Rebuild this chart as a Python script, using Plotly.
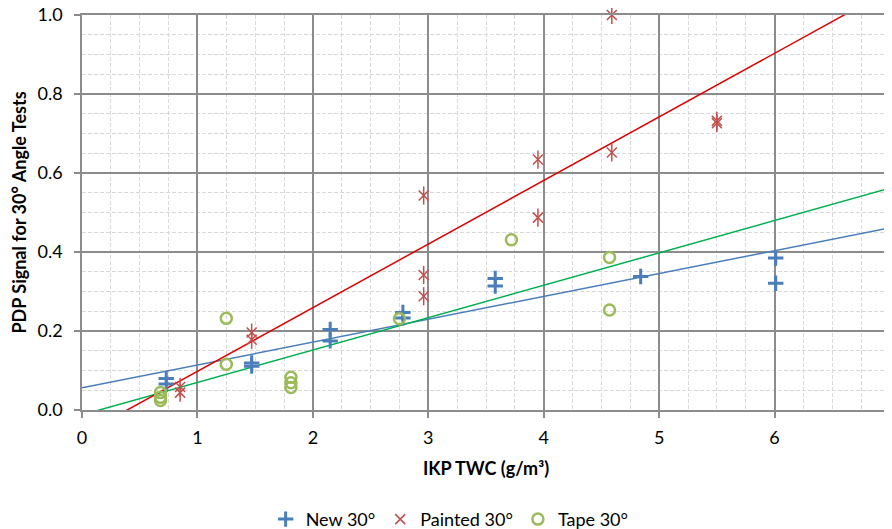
import plotly.graph_objects as go

# ---- data ----
new_x = [0.73, 0.73, 1.47, 1.47, 2.15, 2.15, 2.78, 2.78, 3.58, 3.58, 4.84, 6.01, 6.01]
new_y = [0.080, 0.066, 0.119, 0.111, 0.204, 0.175, 0.247, 0.233, 0.333, 0.314, 0.338, 0.385, 0.321]

painted_x = [0.85, 0.85, 1.47, 1.47, 2.96, 2.96, 2.96, 3.95, 3.95, 4.59, 4.59, 5.50, 5.50]
painted_y = [0.058, 0.044, 0.196, 0.178, 0.543, 0.342, 0.288, 0.634, 0.487, 1.000, 0.652, 0.732, 0.726]

tape_x = [0.68, 0.68, 0.68, 1.25, 1.25, 1.81, 1.81, 1.81, 2.75, 3.72, 4.57, 4.57]
tape_y = [0.044, 0.032, 0.024, 0.232, 0.116, 0.083, 0.069, 0.057, 0.231, 0.431, 0.386, 0.253]

# linear trendlines (intercept, slope)
trend_new = (0.056, 0.0579)
trend_painted = (-0.063, 0.161)
trend_tape = (-0.0123, 0.082)

x_ticks = [0, 1, 2, 3, 4, 5, 6, 7]
y_ticks = [0.0, 0.2, 0.4, 0.6, 0.8, 1.0]

blue = "#4A7EBB"
red = "#C0504D"
green = "#9BBB59"
grid_major = "#8C8C8C"
grid_minor = "#D9D9D9"

fig = go.Figure()

trend_x = [x_ticks[0], x_ticks[-1]]
for (a, b), col in [(trend_new, "#4A7EBB"), (trend_tape, "#00B050"), (trend_painted, "#E00000")]:
    fig.add_trace(go.Scatter(
        x=trend_x, y=[a + b * v for v in trend_x], mode="lines",
        line=dict(color=col, width=1.5), showlegend=False, hoverinfo="skip"))

fig.add_trace(go.Scatter(
    x=new_x, y=new_y, mode="markers", name="New 30°", cliponaxis=False,
    marker=dict(symbol="cross-thin", size=11, color=blue, line=dict(color=blue, width=3))))
# Excel "star" marker = X plus a vertical stroke
fig.add_trace(go.Scatter(
    x=painted_x, y=painted_y, mode="markers", name="Painted 30°", cliponaxis=False,
    legendgroup="painted",
    marker=dict(symbol="x-thin", size=10, color=red, line=dict(color=red, width=1.5))))
fig.add_trace(go.Scatter(
    x=painted_x, y=painted_y, mode="markers", name="Painted 30°", cliponaxis=False,
    legendgroup="painted", showlegend=False, hoverinfo="skip",
    marker=dict(symbol="line-ns", size=13, color=red, line=dict(color=red, width=1.5))))
fig.add_trace(go.Scatter(
    x=tape_x, y=tape_y, mode="markers", name="Tape 30°", cliponaxis=False,
    marker=dict(symbol="circle-open", size=11, color=green, line=dict(color=green, width=2.5))))

font_family = "Lato, 'Open Sans', sans-serif"

# the page body adds an 8px offset, so the figure is sized 8px smaller
fig.update_layout(
    width=884, height=521,
    margin=dict(l=74, r=2, t=7, b=119, autoexpand=False),
    paper_bgcolor="white", plot_bgcolor="white",
    font=dict(family=font_family, size=18, color="#000000"),
    legend=dict(orientation="h", x=0.455, xanchor="center", y=-0.277, yanchor="middle",
                font=dict(size=18), tracegroupgap=0),
)

fig.update_xaxes(
    range=[0, 7], tickvals=x_ticks, ticktext=[str(v) for v in x_ticks],
    automargin=False, ticklabeloverflow="allow",
    showgrid=True, gridcolor=grid_major, gridwidth=1.5,
    zeroline=False, showline=True, mirror=True, linecolor=grid_major, linewidth=1.5,
    ticks="outside", ticklen=6, tickcolor=grid_major, tickwidth=1.5,
    ticklabelstandoff=5,
    minor=dict(dtick=0.25, showgrid=True, gridcolor=grid_minor, griddash="4px,2px", gridwidth=1),
    title=dict(text="<b>IKP TWC (g/m³)</b>", font=dict(size=18), standoff=15),
    tickfont=dict(size=18),
)
fig.update_yaxes(
    range=[0, 1.0], tickvals=y_ticks, ticktext=[f"{v:.1f}" for v in y_ticks],
    automargin=False, ticklabeloverflow="allow",
    showgrid=True, gridcolor=grid_major, gridwidth=1.5,
    zeroline=False, showline=True, mirror=True, linecolor=grid_major, linewidth=1.5,
    ticks="outside", ticklen=6, tickcolor=grid_major, tickwidth=1.5,
    ticklabelstandoff=8,
    minor=dict(dtick=0.05, showgrid=True, gridcolor=grid_minor, griddash="4px,2px", gridwidth=1),
    title=dict(text="<b>PDP Signal for 30° Angle Tests</b>", font=dict(size=18), standoff=8),
    tickfont=dict(size=18),
)

fig.write_html("out.html")
